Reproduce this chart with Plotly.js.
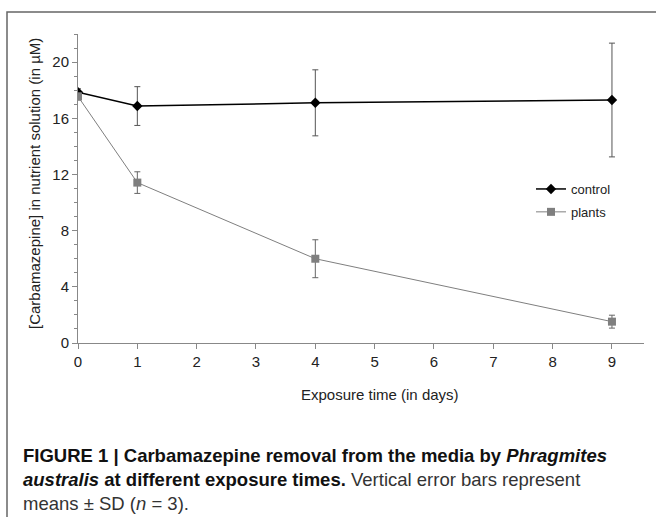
<!DOCTYPE html>
<html><head><meta charset="utf-8">
<script src="https://cdn.plot.ly/plotly-3.0.1.min.js"></script>
<style>html,body{margin:0;padding:0;background:#fff}#chart{width:656px;height:517px}</style>
</head><body><div id="chart"></div>
<script>
// ---- data ----
const days = [0, 1, 4, 9];
const controlMean = [17.85, 16.87, 17.1, 17.3];
const controlSD = [0.25, 1.38, 2.35, 4.05];
const plantsMean = [17.55, 11.42, 6.0, 1.52];
const plantsSD = [0.25, 0.77, 1.35, 0.46];
const seriesNames = ['control', 'plants'];
const xTitle = 'Exposure time (in days)';
const yTitle = '[Carbamazepine] in nutrient solution (in µM)';
const captionLines = [
  '<b>FIGURE 1 | Carbamazepine removal from the media by <i>Phragmites</i></b>',
  '<b><i>australis</i> at different exposure times.</b><span style="color:#333"> Vertical error bars represent</span>',
  '<span style="color:#333">means ± SD (<i>n</i> = 3).</span>'
];

// ---- layout helpers (pixel -> paper) ----
const W = 656, H = 517, L = 78, R = 12, T = 34, B = 174;
const pw = W - L - R, ph = H - T - B;
const px = x => (x - L) / pw;
const py = y => (H - B - y) / ph;
const FONT = 'Liberation Sans, Arial, sans-serif';

const traces = [
  {
    x: days, y: controlMean, name: seriesNames[0], type: 'scatter', mode: 'lines+markers',
    legendgroup: 'a',
    line: {color: '#000', width: 1.5},
    marker: {symbol: 'diamond', size: 8, color: '#000'},
    error_y: {type: 'data', array: controlSD, visible: true, color: '#555', thickness: 1, width: 3}
  },
  {
    x: days, y: plantsMean, name: seriesNames[1], type: 'scatter', mode: 'lines+markers',
    legendgroup: 'b',
    line: {color: '#7f7f7f', width: 1},
    marker: {symbol: 'square', size: 8, color: '#7f7f7f'},
    error_y: {type: 'data', array: plantsSD, visible: true, color: '#666', thickness: 1, width: 3}
  }
];

const annotations = [
  {text: xTitle, xref: 'paper', yref: 'paper', x: px(380), y: py(394), xanchor: 'center', yanchor: 'middle',
   showarrow: false, font: {family: FONT, size: 15, color: '#222'}},
  {text: yTitle, xref: 'paper', yref: 'paper', x: px(34), y: py(184), xanchor: 'center', yanchor: 'middle',
   textangle: -90, showarrow: false, font: {family: FONT, size: 15, color: '#222'}}
];
const capY = [455, 479, 503];
captionLines.forEach((t, i) => annotations.push({
  text: t, xref: 'paper', yref: 'paper', x: px(21), y: py(capY[i]), xanchor: 'left', yanchor: 'middle',
  align: 'left', showarrow: false, font: {family: FONT, size: 18.5, color: '#111'}
}));

const layout = {
  width: W, height: H,
  margin: {l: L, r: R, t: T, b: B, pad: 0},
  paper_bgcolor: '#fff', plot_bgcolor: '#fff',
  font: {family: FONT, color: '#222'},
  xaxis: {
    range: [0, 9.54], tickmode: 'linear', tick0: 0, dtick: 1,
    ticks: 'outside', ticklen: 5, tickcolor: '#888', tickwidth: 1,
    showline: true, linecolor: '#888', linewidth: 1,
    showgrid: false, zeroline: false,
    tickfont: {family: FONT, size: 15, color: '#222'}
  },
  yaxis: {
    range: [0, 22], tickmode: 'linear', tick0: 0, dtick: 4,
    ticks: 'outside', ticklen: 5, tickcolor: '#888', tickwidth: 1,
    minor: {dtick: 1, ticks: 'outside', ticklen: 3, tickcolor: '#888', showgrid: false},
    showline: true, linecolor: '#888', linewidth: 1,
    showgrid: false, zeroline: false,
    tickfont: {family: FONT, size: 15, color: '#222'}
  },
  showlegend: true,
  legend: {
    x: px(531), y: py(174), xanchor: 'left', yanchor: 'top',
    bgcolor: 'rgba(0,0,0,0)', font: {family: FONT, size: 13, color: '#222'},
    itemwidth: 30, traceorder: 'grouped', tracegroupgap: 3
  },
  shapes: [
    {type: 'rect', xref: 'paper', yref: 'paper', x0: px(7), x1: px(680), y0: py(12), y1: py(540),
     line: {color: '#666', width: 1.5}, fillcolor: 'rgba(0,0,0,0)', layer: 'below'}
  ],
  annotations: annotations
};

Plotly.newPlot('chart', traces, layout, {displayModeBar: false, staticPlot: true});
</script>
</body></html>
